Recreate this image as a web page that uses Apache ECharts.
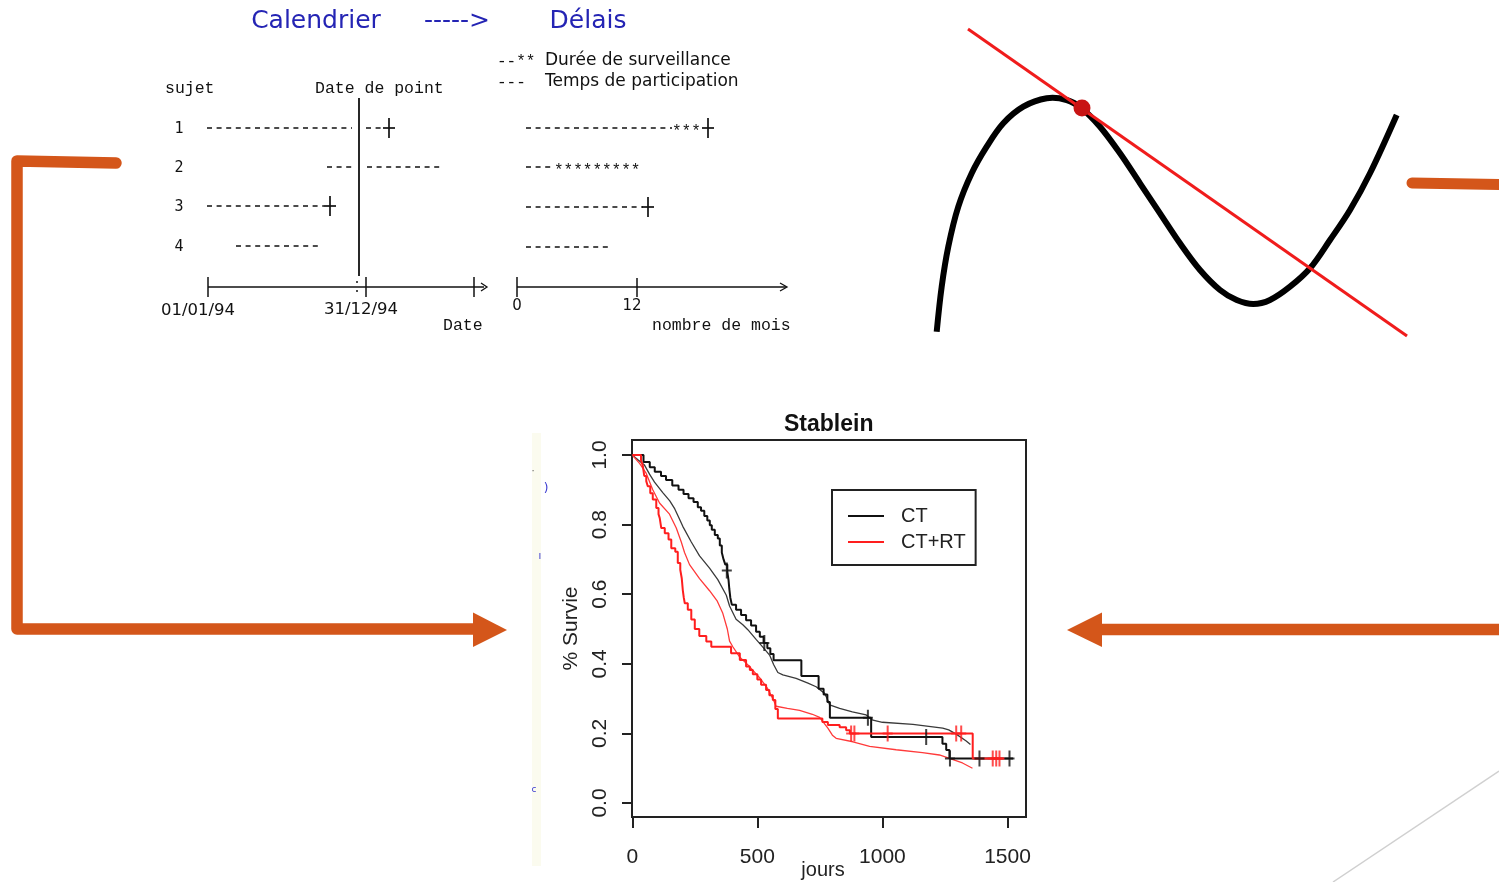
<!DOCTYPE html>
<html><head><meta charset="utf-8">
<script src="https://cdn.jsdelivr.net/npm/echarts@6/dist/echarts.min.js"></script>
<style>html,body{margin:0;padding:0;background:#fff}#c{width:1499px;height:882px}</style>
</head><body><div id="c"></div><script>
// ---------- data ----------
const legendNames = ['CT', 'CT+RT'];
const xTicks = [0, 500, 1000, 1500];
const yTicks = [0, 0.2, 0.4, 0.6, 0.8, 1.0];
// Kaplan-Meier steps: [jours, survie]
const ctKM = [[0,1.0],[45,0.98],[70,0.965],[90,0.952],[115,0.94],[135,0.928],[160,0.912],[185,0.9],[205,0.888],[225,0.876],[245,0.865],[262,0.85],[275,0.84],[288,0.825],[300,0.812],[310,0.798],[318,0.785],[330,0.77],[342,0.76],[350,0.74],[358,0.72],[365,0.70],[372,0.685],[380,0.665],[385,0.64],[388,0.615],[392,0.59],[398,0.57],[415,0.555],[435,0.54],[455,0.525],[475,0.51],[495,0.492],[510,0.478],[525,0.46],[540,0.445],[552,0.428],[565,0.41],[676,0.365],[745,0.328],[765,0.312],[780,0.29],[790,0.245],[955,0.19],[1240,0.17],[1255,0.152],[1268,0.128],[1522,0.128]];
const ctrtKM = [[0,1.0],[35,0.985],[42,0.97],[48,0.94],[56,0.925],[62,0.91],[72,0.89],[82,0.872],[96,0.848],[105,0.83],[110,0.818],[116,0.79],[130,0.775],[145,0.757],[156,0.732],[172,0.722],[182,0.69],[192,0.67],[198,0.645],[202,0.612],[206,0.59],[210,0.574],[222,0.555],[236,0.527],[250,0.5],[268,0.48],[296,0.464],[316,0.449],[395,0.43],[430,0.411],[455,0.392],[470,0.382],[482,0.37],[500,0.355],[515,0.34],[535,0.325],[548,0.31],[562,0.296],[572,0.27],[582,0.243],[760,0.233],[782,0.224],[829,0.218],[855,0.209],[870,0.2],[1361,0.128],[1485,0.128]];
// fitted (smoother) curves
const ctFit = [[0,1.0],[25,0.985],[49,0.971],[69,0.945],[89,0.922],[122,0.892],[150,0.868],[170,0.845],[185,0.822],[202,0.795],[236,0.75],[269,0.71],[309,0.675],[342,0.642],[376,0.597],[389,0.566],[415,0.528],[442,0.512],[462,0.498],[495,0.47],[522,0.448],[549,0.425],[565,0.398],[582,0.375],[602,0.368],[655,0.358],[700,0.345],[735,0.334],[769,0.315],[782,0.295],[789,0.282],[829,0.272],[880,0.262],[935,0.253],[962,0.238],[1000,0.232],[1122,0.226],[1241,0.215],[1265,0.21],[1295,0.198],[1335,0.178],[1352,0.168]];
const ctrtFit = [[0,1.0],[30,0.975],[56,0.947],[82,0.9],[109,0.862],[149,0.83],[176,0.79],[196,0.75],[209,0.72],[229,0.685],[269,0.645],[309,0.61],[340,0.58],[362,0.545],[380,0.5],[389,0.465],[402,0.449],[429,0.42],[469,0.392],[509,0.36],[540,0.33],[562,0.3],[575,0.278],[620,0.272],[669,0.266],[720,0.255],[749,0.246],[782,0.215],[800,0.195],[815,0.186],[882,0.176],[949,0.163],[1055,0.153],[1160,0.145],[1228,0.138],[1268,0.128],[1320,0.115],[1360,0.1]];
// censored observations
const ctCensor = [[378,0.668],[528,0.46],[942,0.245],[1175,0.19],[1270,0.128],[1388,0.128],[1508,0.128]];
const ctrtCensor = [[875,0.2],[888,0.2],[1021,0.2],[1295,0.2],[1315,0.2],[1441,0.128],[1455,0.128],[1468,0.128]];

// ---------- slide decorations ----------
const G = [];
const INK = '#111';
function ln(x1,y1,x2,y2,o){G.push({type:'line',silent:true,shape:{x1,y1,x2,y2},style:Object.assign({stroke:INK,lineWidth:1.5},o||{})});}
function tx(x,y,t,font,o){G.push({type:'text',silent:true,x,y,style:Object.assign({text:t,font,fill:INK,align:'left',verticalAlign:'middle'},o||{})});}
function pl(pts,o){G.push({type:'polyline',silent:true,shape:{points:pts},style:Object.assign({stroke:INK,lineWidth:1.5,fill:null},o||{})});}
function pg(pts,fill){G.push({type:'polygon',silent:true,shape:{points:pts},style:{fill}});}
function dash(x1,y,x2){ln(x1,y,x2,y,{lineDash:[5,4.6],lineWidth:1.7});}
function plus(x,y){ln(x,y-10,x,y+10,{lineWidth:1.7});ln(x-6,y,x+6,y,{lineWidth:1.7});}

// blue header
const BLUE = '#2424b4';
tx(316,21,'Calendrier','25px "DejaVu Sans"',{fill:BLUE,align:'center'});
tx(457,21,'----->','25px "DejaVu Sans"',{fill:BLUE,align:'center'});
tx(588,21,'Délais','25px "DejaVu Sans"',{fill:BLUE,align:'center'});
// schematic legend
const MONO = '16px "Liberation Mono"';
tx(497,62,'--**',MONO);
tx(497,83,'---',MONO);
tx(545,61,'Durée de surveillance','17px "DejaVu Sans"');
tx(545,82,'Temps de participation','17px "DejaVu Sans"');
tx(165,89,'sujet','16.5px "Liberation Mono"');
tx(315,89,'Date de point','16.5px "Liberation Mono"');
['1','2','3','4'].forEach((s,i)=>tx(179,[129,168,207,247][i],s,'15px "DejaVu Sans Mono"',{align:'center'}));
ln(359,98,359,276,{lineWidth:1.8});
// calendar rows
dash(207,128,352); dash(366,128,384); plus(389,128);
dash(327,167,352); dash(367,167,442);
dash(207,206,324); plus(330,206);
dash(236,246,322);
// delay rows
dash(526,128,672); tx(672,132,'***',MONO); plus(708,128);
dash(526,167,552); tx(554,171,'*********',MONO);
dash(526,207,643); plus(648,207);
dash(526,247,610);
// axes of schematic
ln(208,287,484,287); ln(208,277,208,297); ln(366,277,366,297); ln(474,277,474,297);
G.push({type:'circle',silent:true,shape:{cx:357,cy:282,r:1},style:{fill:INK}});
G.push({type:'circle',silent:true,shape:{cx:357,cy:291,r:1},style:{fill:INK}});
pl([[481,283],[487,287],[481,291]],{lineWidth:1.3});
ln(517,287,786,287); ln(517,277,517,297); ln(637,278,637,297);
pl([[780,283],[787,287],[780,291]],{lineWidth:1.3});
tx(198,311,'01/01/94','16.5px "DejaVu Sans"',{align:'center'});
tx(361,310,'31/12/94','16.5px "DejaVu Sans"',{align:'center'});
tx(443,326,'Date','16.5px "Liberation Mono"');
tx(517,306,'0','15px "DejaVu Sans"',{align:'center'});
tx(632,306,'12','15px "DejaVu Sans"',{align:'center'});
tx(652,326,'nombre de mois','16.5px "Liberation Mono"');

// cubic illustration with tangent
G.push({type:'polyline',silent:true,shape:{smooth:0.35,points:[[936.7,331.7],[941.7,286.7],[948.3,246.7],[958.3,206.7],[971.7,173.3],[986.7,146.7],[1003.3,123.3],[1023.3,106.7],[1046.7,98.3],[1066.7,100],[1081.7,108.3],[1100,126.7],[1120,153.3],[1140,183.3],[1160,213.3],[1180,243.3],[1200,270],[1220,290],[1236.7,300],[1253.3,304],[1270,300],[1290,286.7],[1310,268.3],[1330,240],[1350,210],[1370,173.3],[1396.7,115]]},style:{stroke:'#000',lineWidth:6,fill:null}});
ln(968,29,1407,336,{stroke:'#f01c1c',lineWidth:3});
G.push({type:'circle',silent:true,shape:{cx:1082,cy:108,r:8.5},style:{fill:'#c81414'}});

// orange connectors
const OR = '#d4561a';
pl([[116,163],[17,161],[17,629],[476,629]],{stroke:OR,lineWidth:11.5,lineCap:'round',lineJoin:'round'});
pg([[473,612.5],[473,647],[507,630]],OR);
pl([[1499,629.5],[1100,629.5]],{stroke:OR,lineWidth:11.5});
pg([[1102,612.5],[1102,647],[1067,630]],OR);
pl([[1412,183],[1505,184.5]],{stroke:OR,lineWidth:11,lineCap:'round'});
// faint gray diagonal
ln(1499,771,1333,882,{stroke:'#d0d0d0',lineWidth:1.5});
// faint strip left of the plot
G.push({type:'rect',silent:true,shape:{x:532,y:433,width:9,height:433},style:{fill:'#fbfbef'}});
tx(546,489,')','12px "DejaVu Sans"',{fill:'#3a3ad0',align:'center'});
tx(540,556,'ı','10px "DejaVu Sans"',{fill:'#3a3ad0',align:'center'});
tx(534,790,'c','9px "DejaVu Sans"',{fill:'#3a3ad0',align:'center'});
tx(533,471,'·','10px "DejaVu Sans"',{fill:'#666',align:'center'});

// ---------- chart ----------
const AX = '#222';
const FONT = 'Liberation Sans';
const cross = 'path://M4,0h2v7h4v2h-4v7h-2v-7h-4v-2h4z';
const chart = echarts.init(document.getElementById('c'), null, {renderer:'canvas'});
chart.setOption({
  animation:false,
  backgroundColor:'#fff',
  title:{text:'Stablein',left:784,top:413,padding:0,textStyle:{fontFamily:FONT,fontSize:23,fontWeight:'bold',color:'#111'}},
  legend:{data:legendNames,left:832,top:490,orient:'vertical',padding:[16,10,13,16],itemGap:6,itemWidth:36,itemHeight:14,
    icon:'path://M0,0h36v2h-36z',
    borderColor:AX,borderWidth:2,borderRadius:0,backgroundColor:'#fff',selectedMode:false,
    textStyle:{fontFamily:FONT,fontSize:20,color:'#222',padding:[0,0,0,12]}},
  grid:{left:632,top:440,width:394,height:377,show:true,borderColor:AX,borderWidth:2,backgroundColor:'transparent',outerBoundsMode:'none',containLabel:false},
  xAxis:{type:'value',min:-1,max:1574,position:'bottom',
    axisLine:{show:false,onZero:false},splitLine:{show:false},
    axisTick:{show:true,inside:false,customValues:xTicks,length:11,lineStyle:{color:AX,width:2}},
    axisLabel:{customValues:xTicks,margin:30,fontFamily:FONT,fontSize:21,color:'#222',formatter:v=>String(v)},
    name:'jours',nameLocation:'middle',nameGap:43,nameMoveOverlap:false,nameTextStyle:{fontFamily:FONT,fontSize:20,color:'#222',padding:[0,12,0,0]}},
  yAxis:{type:'value',min:-0.0402,max:1.0431,position:'left',
    axisLine:{show:false,onZero:false},splitLine:{show:false},
    axisTick:{show:true,inside:false,customValues:yTicks,length:10,lineStyle:{color:AX,width:2}},
    axisLabel:{customValues:yTicks,rotate:90,margin:21,fontFamily:FONT,fontSize:21,color:'#222',formatter:v=>v.toFixed(1)},
    name:'% Survie',nameLocation:'middle',nameRotate:90,nameGap:50,nameMoveOverlap:false,nameTextStyle:{fontFamily:FONT,fontSize:21,color:'#222'}},
  graphic:G,
  series:[
    {name:'CT fit',type:'line',data:ctFit,symbol:'none',lineStyle:{color:'#3a3a3a',width:1.3},itemStyle:{color:'#3a3a3a'},z:2},
    {name:'CT+RT fit',type:'line',data:ctrtFit,symbol:'none',lineStyle:{color:'#ff3a3a',width:1.3},itemStyle:{color:'#ff3a3a'},z:2},
    {name:'CT',type:'line',step:'end',data:ctKM,symbol:'none',lineStyle:{color:'#111',width:2},itemStyle:{color:'#111'},z:3},
    {name:'CT+RT',type:'line',step:'end',data:ctrtKM,symbol:'none',lineStyle:{color:'#ff1e1e',width:2},itemStyle:{color:'#ff1e1e'},z:3},
    {name:'CT censure',type:'scatter',data:ctCensor,symbol:cross,symbolSize:[10,16],itemStyle:{color:'#111'},z:4},
    {name:'CT+RT censure',type:'scatter',data:ctrtCensor,symbol:cross,symbolSize:[10,16],itemStyle:{color:'#ff1e1e'},z:4}
  ]
});
</script></body></html>
